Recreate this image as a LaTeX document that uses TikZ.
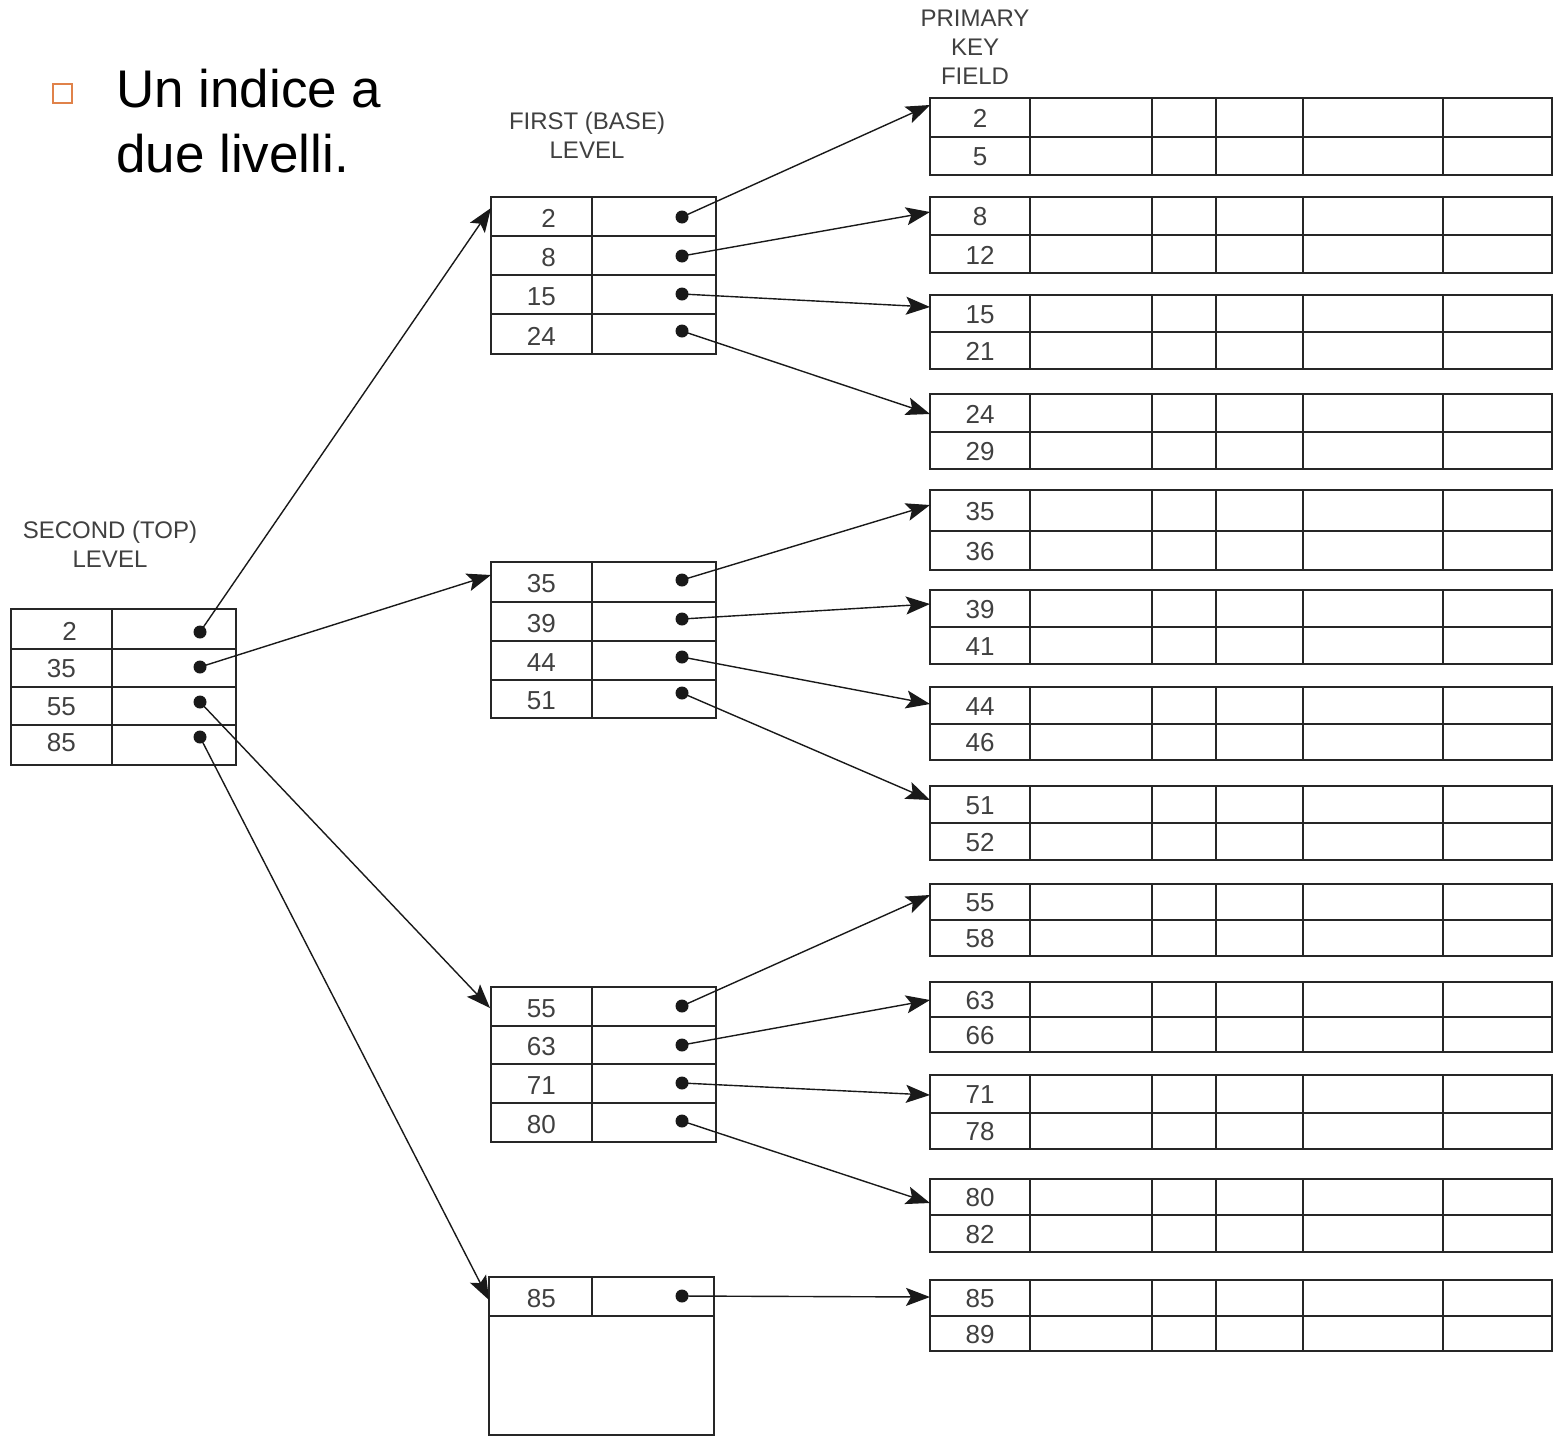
\documentclass[tikz,border=0pt]{standalone}
\usepackage{fontspec}
\setmainfont{Liberation Sans}
\usetikzlibrary{arrows.meta}
\definecolor{bulletorange}{HTML}{E0824A}
\definecolor{labelgray}{HTML}{404040}
\tikzset{
  tbl/.style={line width=1.9pt, draw=black!85},
  keynum/.style={font=\fontsize{26}{28}\selectfont, text=labelgray, inner sep=0pt},
  captext/.style={font=\fontsize{24}{29}\selectfont, text=labelgray, align=center, inner sep=0pt},
  ptr/.style={line width=1.4pt, draw=black!90, -{Stealth[length=24pt,width=18pt,inset=5pt]}},
  ptrdot/.style={fill=black!90},
}
\begin{document}
\begin{tikzpicture}[x=1pt, y=-1pt]
\useasboundingbox (0,0) rectangle (1554,1440);

% title with square bullet
\draw[bulletorange, line width=2.6pt] (53,84) rectangle (72,103);
\node[anchor=base west, inner sep=0pt, font=\fontsize{53}{65}\selectfont] (t1) at (116,107) {Un indice a};
\node[anchor=base west, inner sep=0pt, font=\fontsize{53}{65}\selectfont] (t2) at (116,172) {due livelli.};

% captions
\node[captext] (capdata) at (975,47) {PRIMARY\\KEY\\FIELD};
\node[captext] (capfirst) at (587,135) {FIRST (BASE)\\LEVEL};
\node[captext] (capsecond) at (110,544) {SECOND (TOP)\\LEVEL};

% data file blocks: top/middle/bottom/key1/key2/arrow y
\foreach \t/\m/\b/\u/\v/\ay [count=\i] in {
  98/137/175/2/5/105, 197/235/273/8/12/212, 295/332/369/15/21/307,
  394/432/469/24/29/414, 490/531/570/35/36/505, 590/627/664/39/41/604,
  687/724/760/44/46/704, 786/823/860/51/52/800, 884/920/956/55/58/895,
  982/1017/1052/63/66/1000, 1075/1113/1149/71/78/1095,
  1179/1215/1252/80/82/1203, 1280/1316/1351/85/89/1297} {
  \draw[tbl] (930,\t) rectangle (1552,\b);
  \draw[tbl] (930,\m) -- (1552,\m);
  \foreach \c in {1030,1152,1216,1303,1443} \draw[tbl] (\c,\t) -- (\c,\b);
  \node[keynum] (d\i a) at (980,{(\t+\m)/2+1}) {\u};
  \node[keynum] (d\i b) at (980,{(\m+\b)/2+1}) {\v};
  \coordinate (in\i) at (930,\ay);
}

% first level index blocks: top/r1/r2/r3/bottom/keys
\foreach \t/\ra/\rb/\rc/\b/\ka/\kb/\kc/\kd [count=\j] in {
  197/236/275/314/354/2/8/15/24,
  562/602/641/680/718/35/39/44/51,
  987/1026/1064/1103/1142/55/63/71/80} {
  \draw[tbl] (491,\t) rectangle (716,\b);
  \draw[tbl] (592,\t) -- (592,\b);
  \foreach \r in {\ra,\rb,\rc} \draw[tbl] (491,\r) -- (716,\r);
  \node[keynum, anchor=east] (f\j k1) at (556,{(\t+\ra)/2+2}) {\ka};
  \node[keynum, anchor=east] (f\j k2) at (556,{(\ra+\rb)/2+2}) {\kb};
  \node[keynum, anchor=east] (f\j k3) at (556,{(\rb+\rc)/2+2}) {\kc};
  \node[keynum, anchor=east] (f\j k4) at (556,{(\rc+\b)/2+2}) {\kd};
}
% last, partly filled block
\draw[tbl] (489,1277) rectangle (714,1435);
\draw[tbl] (489,1316) -- (714,1316);
\draw[tbl] (592,1277) -- (592,1316);
\node[keynum, anchor=east] (f4k1) at (556,1299) {85};

% pointer origins in first level blocks
\foreach \y [count=\k] in {217,256,294,331,580,619,657,693,1006,1045,1083,1121,1296}
  \coordinate (p\k) at (682,\y);

% targets of second level pointers
\coordinate (fb1) at (491,208);
\coordinate (fb2) at (491,575);
\coordinate (fb3) at (490,1008);
\coordinate (fb4) at (489,1300);

% second level index
\draw[tbl] (11,609) rectangle (236,765);
\draw[tbl] (112,609) -- (112,765);
\foreach \r in {649,687,725} \draw[tbl] (11,\r) -- (236,\r);
\node[keynum, anchor=east] (s1) at (77,631) {2};
\node[keynum, anchor=east] (s2) at (76,669) {35};
\node[keynum, anchor=east] (s3) at (76,707) {55};
\node[keynum, anchor=east] (s4) at (76,743) {85};
\coordinate (q1) at (200,632);
\coordinate (q2) at (200,667);
\coordinate (q3) at (200,702);
\coordinate (q4) at (200,737);

% pointers from the second level
\foreach \k in {1,...,4} {
  \draw[ptr] (q\k) -- (fb\k);
  \fill[ptrdot] (q\k) circle (6.5pt);
}

% pointers from the first level
\foreach \k in {1,...,13} {
  \draw[ptr] (p\k) -- (in\k);
  \fill[ptrdot] (p\k) circle (6.5pt);
}
\end{tikzpicture}
\end{document}
